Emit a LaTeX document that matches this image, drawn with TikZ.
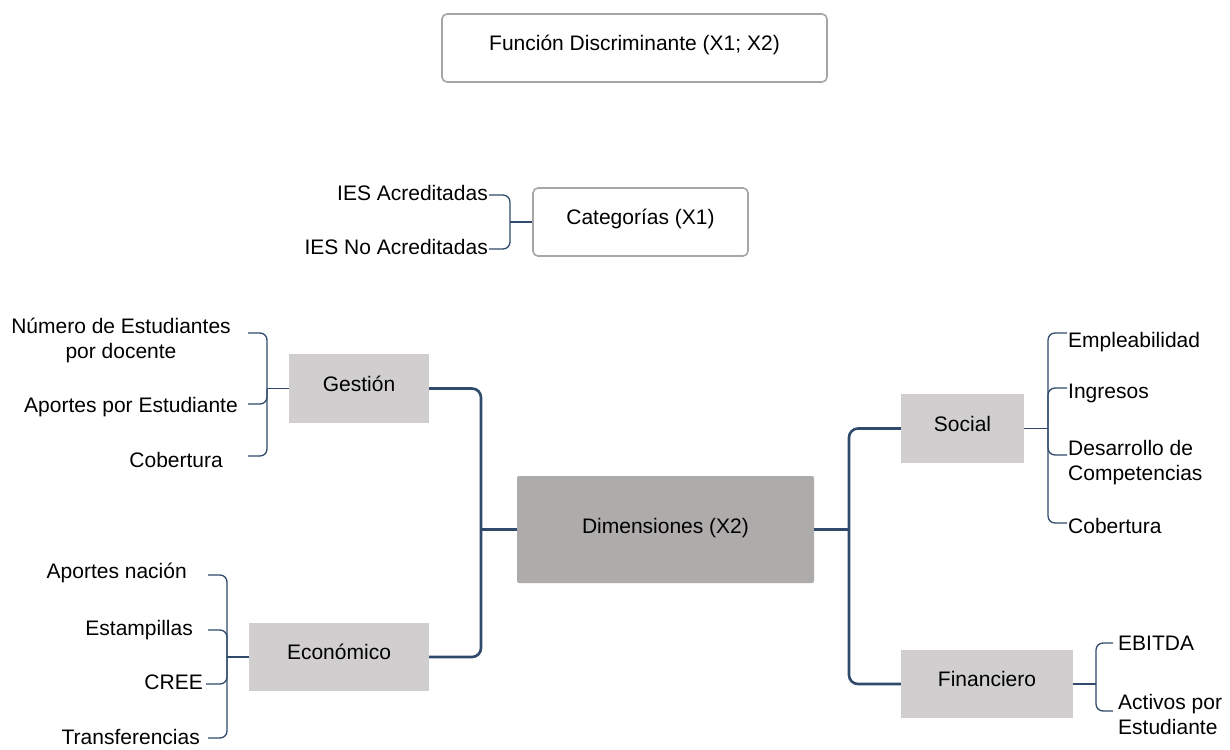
\documentclass[tikz,border=0pt]{standalone}
\usepackage{fontspec}
\setmainfont{Liberation Sans}
\definecolor{conn}{HTML}{2F4A6B}
\definecolor{lightbox}{HTML}{D0CECE}
\definecolor{darkbox}{HTML}{AEABAB}
\definecolor{frame}{HTML}{A6A6A6}
\begin{document}
\begin{tikzpicture}[x=1pt,y=-1pt,
  every node/.style={font=\fontsize{21}{25}\selectfont, text=black},
  outlinebox/.style={draw=frame, line width=1.6pt, fill=white, rounded corners=5pt, inner sep=0pt, text height=15pt, text depth=10pt},
  graybox/.style={fill=lightbox, inner sep=0pt, text height=15pt, text depth=10pt},
  centerbox/.style={fill=darkbox, inner sep=0pt, rounded corners=2pt, text height=15pt, text depth=8pt},
  leaf/.style={inner sep=0pt, text height=15pt, text depth=4.5pt},
  leafml/.style={inner sep=0pt},
  mainline/.style={draw=conn, line width=2.6pt, rounded corners=9pt},
  brline/.style={draw=conn, line width=1.3pt, rounded corners=7pt},
  brstem/.style={draw=conn, line width=1.3pt}
]
\useasboundingbox (0,0) rectangle (1230,749);

% top boxes
\node[outlinebox, minimum width=385pt, minimum height=68pt] (fd) at (634.5,48) {Función Discriminante (X1; X2)};
\node[outlinebox, minimum width=215pt, minimum height=68pt] (cat) at (640.5,222) {Categorías (X1)};

% category leaves
\node[leaf, anchor=east] (ies1) at (488,195) {IES Acreditadas};
\node[leaf, anchor=east] (ies2) at (488,249) {IES No Acreditadas};
\coordinate (cj) at (510,222);
\coordinate (c1) at (489,195);
\coordinate (c2) at (489,249);
\draw[brstem] (cat.west) -- (cj);
\draw[brline] (cj) |- (c1);
\draw[brline] (cj) |- (c2);

% main boxes
\node[centerbox, minimum width=297pt, minimum height=107pt] (dim) at (665.5,529.5) {Dimensiones (X2)};
\node[graybox, minimum width=140pt, minimum height=69pt] (ges) at (359,388.5) {Gestión};
\node[graybox, minimum width=180pt, minimum height=68pt] (eco) at (339,657) {Económico};
\node[graybox, minimum width=123pt, minimum height=69pt] (soc) at (962.5,428.5) {Social};
\node[graybox, minimum width=172pt, minimum height=68pt] (fin) at (987,684) {Financiero};

% main connectors
\coordinate (lv) at (481,529.5);
\coordinate (rv) at (849,529.5);
\draw[mainline] (ges.east) -| (lv) |- (eco.east);
\draw[mainline] (soc.west) -| (rv) |- (fin.west);
\draw[mainline] (dim.west) -- (lv);
\draw[mainline] (dim.east) -- (rv);

% Gestion leaves
\node[leafml, align=center] (g1) at (121,340) {Número de Estudiantes\\por docente};
\node[leaf, anchor=east] (g2) at (238,407) {Aportes por Estudiante};
\node[leaf, anchor=east] (g3) at (223,462) {Cobertura};
\coordinate (gj) at (267,388.5);
\coordinate (gs1) at (248,333);
\coordinate (gs2) at (248,404);
\coordinate (gs3) at (248,456);
\draw[brstem] (ges.west) -- (gj);
\draw[brline] (gj) |- (gs1);
\draw[brline] (gj) |- (gs2);
\draw[brline] (gj) |- (gs3);

% Economico leaves
\node[leaf, anchor=east] (e1) at (187,573) {Aportes nación};
\node[leaf, anchor=east] (e2) at (193,630) {Estampillas};
\node[leaf, anchor=east] (e3) at (203,684) {CREE};
\node[leaf, anchor=east] (e4) at (200,739) {Transferencias};
\coordinate (ej) at (227,657);
\coordinate (es1) at (208,575);
\coordinate (es2) at (208,630);
\coordinate (es3) at (206,684);
\coordinate (es4) at (208,738);
\draw[brstem] (eco.west) -- (ej);
\draw[brline] (ej) |- (es1);
\draw[brline] (ej) |- (es2);
\draw[brline] (ej) |- (es3);
\draw[brline] (ej) |- (es4);

% Social leaves
\node[leaf, anchor=west] (s1) at (1068,342) {Empleabilidad};
\node[leaf, anchor=west] (s2) at (1068,393) {Ingresos};
\node[leafml, anchor=west, align=left] (s3) at (1068,463) {Desarrollo de\\Competencias};
\node[leaf, anchor=west] (s4) at (1068,528) {Cobertura};
\coordinate (sj) at (1048,428.5);
\coordinate (ss1) at (1067,333);
\coordinate (ss2) at (1067,388);
\coordinate (ss3) at (1067,455);
\coordinate (ss4) at (1067,523);
\draw[brstem] (soc.east) -- (sj);
\draw[brline] (sj) |- (ss1);
\draw[brline] (sj) |- (ss2);
\draw[brline] (sj) |- (ss3);
\draw[brline] (sj) |- (ss4);

% Financiero leaves
\node[leaf, anchor=west] (f1) at (1118,645) {EBITDA};
\node[leafml, anchor=west, align=left] (f2) at (1118,714) {Activos por\\Estudiante};
\coordinate (fj) at (1096,684);
\coordinate (fs1) at (1113,643);
\coordinate (fs2) at (1113,711);
\draw[brstem] (fin.east) -- (fj);
\draw[brline] (fj) |- (fs1);
\draw[brline] (fj) |- (fs2);
\end{tikzpicture}
\end{document}
